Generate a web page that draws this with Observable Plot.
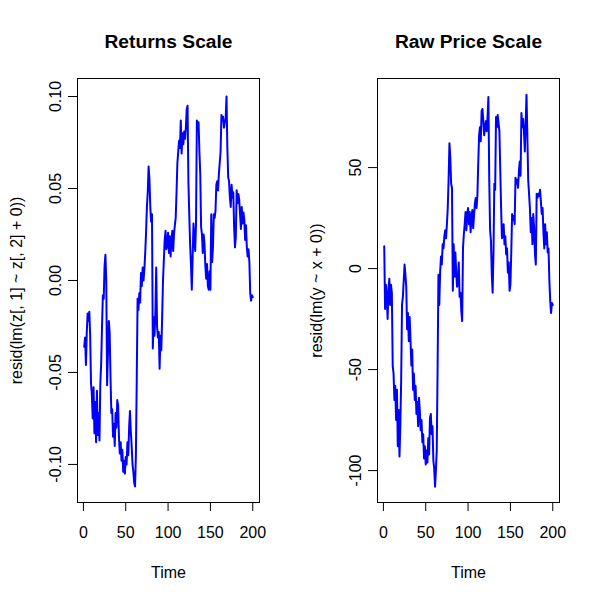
<!DOCTYPE html>
<html>
<head>
<meta charset="utf-8">
<script src="https://cdn.jsdelivr.net/npm/d3@7"></script>
<script src="https://cdn.jsdelivr.net/npm/@observablehq/plot@0.6"></script>
<style>
  html, body { margin: 0; padding: 0; background: #fff; }
  #wrap { position: relative; width: 600px; height: 600px; background: #fff; }
</style>
</head>
<body>
<div id="wrap"></div>
<script>
// ---- Data ----
const returnsResid = [
  -0.036, -0.031, -0.046, -0.028, -0.018, -0.022, -0.017, -0.030, -0.056, -0.062,
  -0.075, -0.058, -0.083, -0.066, -0.088, -0.060, -0.084, -0.072, -0.087, -0.056,
  -0.045, -0.025, -0.008, -0.010, 0.008, 0.014, 0.000, -0.057, -0.040, -0.022,
  -0.028, -0.052, -0.072, -0.070, -0.085, -0.078, -0.090, -0.072, -0.080, -0.065,
  -0.068, -0.085, -0.094, -0.088, -0.098, -0.092, -0.104, -0.098, -0.105, -0.096,
  -0.100, -0.088, -0.095, -0.080, -0.071, -0.082, -0.090, -0.100, -0.104, -0.110,
  -0.112, -0.095, -0.054, -0.010, -0.016, -0.007, -0.012, 0.004, -0.003, 0.007,
  0.000, 0.006, 0.015, 0.026, 0.040, 0.048, 0.062, 0.055, 0.040, 0.032,
  0.036, -0.037, -0.020, -0.030, -0.018, 0.007, -0.025, -0.031, -0.028, -0.048,
  -0.030, -0.038, -0.020, 0.000, 0.011, 0.022, 0.027, 0.017, 0.020, 0.026,
  0.015, 0.024, 0.013, 0.022, 0.027, 0.016, 0.025, 0.030, 0.034, 0.048,
  0.064, 0.070, 0.076, 0.072, 0.087, 0.069, 0.080, 0.074, 0.081, 0.077,
  0.083, 0.093, 0.095, 0.054, 0.036, 0.020, 0.009, -0.005, 0.012, 0.031,
  0.022, 0.016, 0.031, 0.087, 0.085, 0.086, 0.070, 0.058, 0.029, 0.025,
  0.015, 0.025, 0.020, 0.008, 0.001, 0.009, -0.003, -0.005, 0.005, -0.005,
  0.036, 0.010, 0.018, 0.036, 0.034, 0.038, 0.052, 0.054, 0.049, 0.058,
  0.064, 0.070, 0.090, 0.087, 0.089, 0.083, 0.086, 0.088, 0.100, 0.072,
  0.056, 0.054, 0.045, 0.040, 0.052, 0.045, 0.048, 0.029, 0.018, 0.024,
  0.049, 0.042, 0.047, 0.044, 0.036, 0.028, 0.040, 0.031, 0.037, 0.033,
  0.022, 0.030, 0.018, 0.013, 0.017, 0.010, -0.007, -0.011, -0.008, -0.009
];
const priceResid = [
  11, -20, -8, -15, -25, -10, -5, -18, -8, -12,
  -48, -52, -65, -58, -75, -60, -88, -70, -93, -78,
  -55, -18, -14, -6, 2, -3, -9, -30, -22, -36,
  -24, -35, -48, -40, -60, -52, -65, -58, -72, -66,
  -78, -64, -70, -80, -75, -86, -82, -94, -88, -97,
  -90, -96, -84, -92, -74, -72, -82, -78, -95, -99,
  -108, -100, -90, -50, -3, -18, -2, 6, 2, 12,
  10, 16, 19, 15, 22, 30, 44, 62, 55, 42,
  40, -11, 12, -4, 8, -2, -9, -6, 3, -14,
  -12, -21, -26, 10, 17, 22, 28, 19, 27, 30,
  22, 28, 18, 25, 29, 20, 26, 32, 35, 30,
  36, 52, 66, 70, 63, 78, 79, 73, 66, 70,
  73, 68, 75, 85, 44, 19, 14, -3, -12, 8,
  42, 39, 75, 70, 76, 72, 68, 49, 30, 15,
  17, 22, 12, 16, 7, 10, -2, 3, -11, -8,
  8, 27, 24, 26, 22, 45, 42, 44, 40, 48,
  53, 46, 77, 70, 74, 68, 58, 72, 86, 66,
  44, 37, 30, 18, 25, 12, 27, 20, 7, 2,
  37, 35, 37, 36, 39, 33, 27, 30, 18, 10,
  22, 12, 18, 8, 10, -6, -16, -22, -17, -18
];
const xTicks = [0, 50, 100, 150, 200];
const leftYTicks = [-0.10, -0.05, 0.00, 0.05, 0.10];
const leftYLabels = ["-0.10", "-0.05", "0.00", "0.05", "0.10"];
const rightYTicks = [-100, -50, 0, 50];
const rightYLabels = ["-100", "-50", "0", "50"];
const titles = ["Returns Scale", "Raw Price Scale"];
const yTitles = ["resid(lm(z[, 1] ~ z[, 2] + 0))", "resid(lm(y ~ x + 0))"];
const xTitle = "Time";

const FONT = "'Liberation Sans', Arial, Helvetica, sans-serif";
const BLUE = "#0000ff";

function panel(values, yDomain, yTicks, yLabels, title, yTitle) {
  const data = values.map((v, i) => ({t: i + 1, v}));
  const yt = yTicks.map((y, i) => ({y, label: yLabels[i]}));
  return Plot.plot({
    width: 300,
    height: 600,
    marginLeft: 77,
    marginRight: 41,
    marginTop: 78,
    marginBottom: 98,
    style: {fontFamily: FONT, fontSize: "16px", background: "white", color: "black"},
    x: {domain: [-6.96, 207.96], label: null},
    y: {domain: yDomain, label: null},
    marks: [
      Plot.line(data, {x: "t", y: "v", stroke: BLUE, strokeWidth: 2}),
      Plot.frame({stroke: "black", strokeWidth: 1}),
      Plot.axisX({ticks: xTicks, tickSize: 9, tickPadding: 15, fontSize: 16, label: null}),
      Plot.axisY({ticks: yTicks, tickSize: 9, tickFormat: () => "", label: null}),
      Plot.text(yt, {y: "y", text: "label", frameAnchor: "left", dx: -22, rotate: -90, textAnchor: "middle", lineAnchor: "middle", fontSize: 16, fill: "black"}),
      Plot.text([yTitle], {text: d => d, frameAnchor: "left", dx: -61, rotate: -90, textAnchor: "middle", lineAnchor: "middle", fontSize: 16, fill: "black"}),
      Plot.text([xTitle], {text: d => d, frameAnchor: "bottom", dy: 70, textAnchor: "middle", lineAnchor: "middle", fontSize: 16, fill: "black"}),
      Plot.text([title], {text: d => d, frameAnchor: "top", dy: -37, textAnchor: "middle", lineAnchor: "middle", fontSize: 19.2, fontWeight: "bold", fill: "black"})
    ]
  });
}

const wrap = document.getElementById("wrap");
const p1 = panel(returnsResid, [-0.1207, 0.1098], leftYTicks, leftYLabels, titles[0], yTitles[0]);
const p2 = panel(priceResid, [-115.8, 94.1], rightYTicks, rightYLabels, titles[1], yTitles[1]);
p1.style.position = "absolute"; p1.style.left = "0px"; p1.style.top = "0px";
p2.style.position = "absolute"; p2.style.left = "300px"; p2.style.top = "0px";
wrap.appendChild(p1);
wrap.appendChild(p2);
</script>
</body>
</html>
